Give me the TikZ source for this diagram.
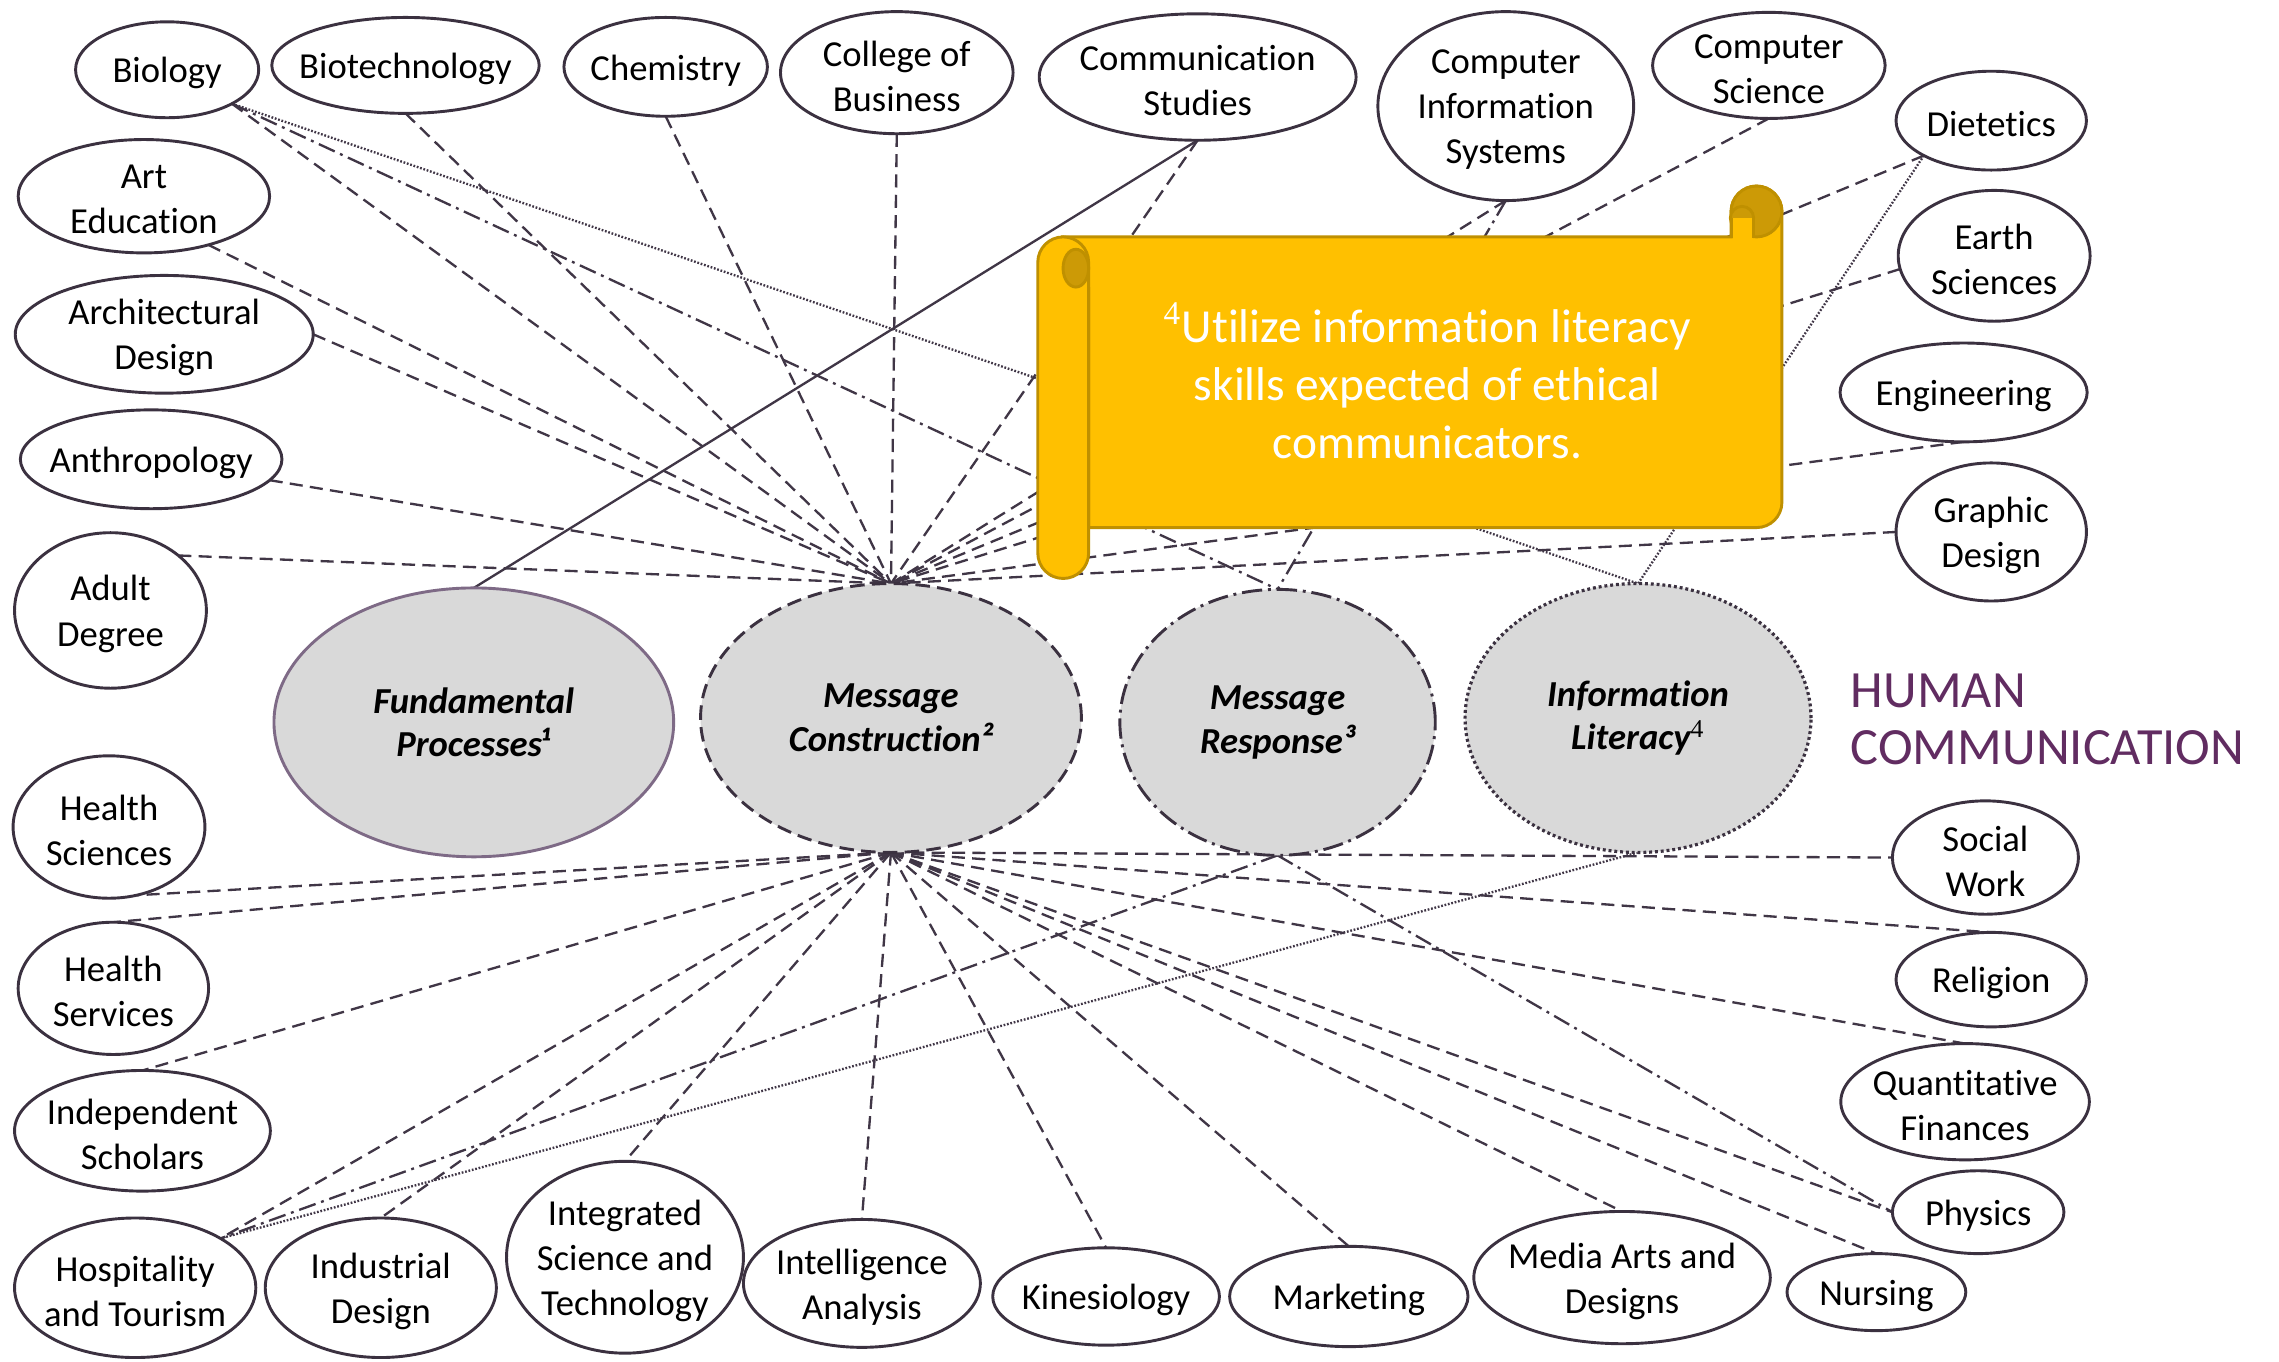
\documentclass[tikz,border=0pt]{standalone}
\usepackage{fontspec}
\setmainfont{Carlito}[Ligatures=NoCommon]
\newfontfamily\serifsup{Liberation Serif}
\usetikzlibrary{shapes.geometric,backgrounds}
\definecolor{nodeline}{HTML}{3B3140}
\definecolor{conn}{HTML}{403646}
\definecolor{centfill}{HTML}{D9D9D9}
\definecolor{fpline}{HTML}{7E6A86}
\definecolor{scrollfill}{HTML}{FFC000}
\definecolor{scrolledge}{HTML}{BF9000}
\definecolor{scrolldark}{HTML}{CC9A06}
\definecolor{humcol}{HTML}{612C61}
\newcommand{\fourmark}{\textsuperscript{\serifsup\mdseries\upshape 4}}
\begin{document}
\begin{tikzpicture}[x=0.5pt,y=-0.5pt,
  dept/.style={ellipse, draw=nodeline, line width=1pt, fill=white, inner sep=0pt, outer sep=0pt},
  sz/.style 2 args={minimum width=#1*0.5pt, minimum height=#2*0.5pt},
  lbl/.style={font=\fontsize{12.6}{15.5}\selectfont, align=center, inner sep=0pt, text=black, yshift=-1.2pt},
  dt/.style={label={[lbl]center:{#1}}},
  cent/.style={ellipse, fill=centfill, draw=nodeline, line width=1pt, inner sep=0pt, outer sep=0pt},
  clbl/.style={font=\fontsize{12.6}{15}\selectfont\bfseries\itshape, align=center, inner sep=0pt, text=black},
  ct/.style={label={[clbl]center:{#1}}},
  link/.style={draw=conn, line width=0.8pt, dash pattern=on 4.5pt off 2.5pt},
  linkdd/.style={draw=conn, line width=0.8pt, dash pattern=on 6pt off 2pt on 1pt off 2pt},
  linkdot/.style={draw=conn, line width=0.8pt, dash pattern=on 0.6pt off 0.6pt},
  linksolid/.style={draw=conn, line width=0.8pt},
  scrollbody/.style={fill=scrollfill, draw=scrolledge, line width=1pt},
  scrollcurl/.style={fill=scrolldark, draw=scrolledge, line width=1pt},
  scrolltxt/.style={font=\fontsize{16.3}{20}\selectfont, align=center, text=white, inner sep=0pt},
  humtxt/.style={font=\fontsize{18}{19.5}\selectfont, align=left, text=humcol, inner sep=0pt}
]
\useasboundingbox (0,0) rectangle (1568,937);

% ---- outer department nodes ----
\node[dept, sz={126}{66}, dt={Biology}] (bio) at (115,48) {};
\node[dept, sz={184}{66}, dt={Biotechnology}] (biotech) at (279,45) {};
\node[dept, sz={140}{68}, dt={Chemistry}] (chem) at (458,46) {};
\node[dept, sz={160}{84}, dt={College of\\Business}] (cob) at (617,50) {};
\node[dept, sz={218}{87}, dt={Communication\\Studies}] (comm) at (824,53) {};
\node[dept, sz={176}{130}, dt={Computer\\Information\\Systems}] (cis) at (1036,73) {};
\node[dept, sz={160}{73}, dt={Computer\\Science}] (cs) at (1217,45) {};
\node[dept, sz={131}{68}, dt={Dietetics}] (diet) at (1370,83) {};
\node[dept, sz={132}{90}, dt={Earth\\Sciences}] (earth) at (1372,176) {};
\node[dept, sz={170}{68}, dt={Engineering}] (eng) at (1351,270) {};
\node[dept, sz={131}{95}, dt={Graphic\\Design}] (graph) at (1370,366) {};
\node[dept, sz={128}{78}, dt={Social\\Work}] (social) at (1366,590) {};
\node[dept, sz={131}{65}, dt={Religion}] (relig) at (1370,674) {};
\node[dept, sz={171}{80}, dt={Quantitative\\Finances}] (quant) at (1352,758) {};
\node[dept, sz={118}{57}, dt={Physics}] (phys) at (1361,834) {};
\node[dept, sz={123}{53}, dt={Nursing}] (nurs) at (1291,889) {};
\node[dept, sz={204}{91}, dt={Media Arts and\\Designs}] (media) at (1116,879) {};
\node[dept, sz={164}{69}, dt={Marketing}] (mkt) at (928,892) {};
\node[dept, sz={156}{67}, dt={Kinesiology}] (kin) at (761,892) {};
\node[dept, sz={163}{88}, dt={Intelligence\\Analysis}] (intel) at (593,883) {};
\node[dept, sz={163}{132}, dt={Integrated\\Science and\\Technology}] (integ) at (430,865) {};
\node[dept, sz={159}{96}, dt={Industrial\\Design}] (indus) at (262,886) {};
\node[dept, sz={166}{96}, dt={Hospitality\\and Tourism}] (hosp) at (93,886) {};
\node[dept, sz={176}{83}, dt={Independent\\Scholars}] (indep) at (98,778) {};
\node[dept, sz={131}{91}, dt={Health\\Services}] (hserv) at (78,680) {};
\node[dept, sz={132}{98}, dt={Health\\Sciences}] (hsci) at (75,569) {};
\node[dept, sz={132}{107}, dt={Adult\\Degree}] (adult) at (76,420) {};
\node[dept, sz={180}{68}, dt={Anthropology}] (anth) at (104,316) {};
\node[dept, sz={205}{81}, dt={Architectural\\Design}] (arch) at (113,230) {};
\node[dept, sz={173}{78}, dt={Art\\Education}] (arted) at (99,135) {};

% ---- central learning outcomes ----
\node[cent, draw=fpline, sz={275}{185}, ct={Fundamental\\Processes¹}] (fp) at (326,497) {};
\node[cent, dash pattern=on 5pt off 2.5pt, sz={262}{185}, ct={Message\\Construction²}] (mc) at (613,494) {};
\node[cent, dash pattern=on 7pt off 2pt on 1pt off 2pt, sz={217}{183}, ct={Message\\Response³}] (mr) at (879,497) {};
\node[cent, line width=1.1pt, dash pattern=on 1pt off 1pt, sz={238}{185}, ct={Information\\Literacy\fourmark}] (il) at (1127,494) {};

\node[humtxt, anchor=west] (hum) at (1273,495) {HUMAN\\COMMUNICATION};

% ---- connectors ----
\begin{scope}[on background layer]
\fill[white] (0,0) rectangle (1568,937);
\foreach \n/\a in {bio/south east, biotech/south, chem/south, cob/south, comm/south,
  cis/south, cs/south, diet/south west, earth/-172, eng/south, graph/west,
  arted/-37, arch/east, anth/-10, adult/north east}
  \draw[link] (\n.\a) -- (mc.north);
\foreach \n/\a in {hsci/-68, hserv/north, indep/north, hosp/north east, indus/north,
  integ/north, intel/north, kin/north, mkt/north, media/north, nurs/north,
  phys/west, quant/north, relig/north, social/west}
  \draw[link] (mc.south) -- (\n.\a);
\draw[linkdd] (bio.south east) -- (mr.north);
\draw[linkdd] (cis.south) -- (mr.north);
\draw[linkdd] (mr.south) -- (hosp.north east);
\draw[linkdd] (mr.south) -- (phys.west);
\draw[linkdot] (bio.south east) -- (il.north);
\draw[linkdot] (diet.south west) -- (il.north);
\draw[linkdot] (il.south) -- (hosp.north east);
\draw[linksolid] (comm.south) -- (fp.north);
\end{scope}

% ---- horizontal scroll ----
\filldraw[scrollbody] (731.5,163) -- (1191,163) -- (1191,145.5)
  .. controls (1191,135.83) and (1198.83,128) .. (1208.5,128)
  .. controls (1218.17,128) and (1226,135.83) .. (1226,145.5)
  -- (1226,345.5) .. controls (1226,355.17) and (1218.17,363) .. (1208.5,363)
  -- (749,363) -- (749,198) -- cycle;
\filldraw[scrollcurl] (1208.5,145.5) circle [radius=8.75pt];
\filldraw[scrollcurl] (1198.5,150) circle [radius=4pt];
\fill[scrollfill] (1190.5,150) rectangle (1206.5,163.5);
\draw[scrolledge, line width=1pt] (1191,150) -- (1191,163.5) (1206.5,150) -- (1206.5,163.5);
\filldraw[scrollbody] (714,180.5) .. controls (714,170.83) and (721.83,163) .. (731.5,163)
  .. controls (741.17,163) and (749,170.83) .. (749,180.5)
  -- (749,380.5) .. controls (749,390.17) and (741.17,398) .. (731.5,398)
  .. controls (721.83,398) and (714,390.17) .. (714,380.5) -- cycle;
\filldraw[scrollcurl] (740.2,184.5) ellipse [x radius=4.4pt, y radius=6.5pt];
\node[scrolltxt] (msg) at (982,262) {\fourmark Utilize information literacy\\skills expected of ethical\\communicators.};
\end{tikzpicture}
\end{document}
